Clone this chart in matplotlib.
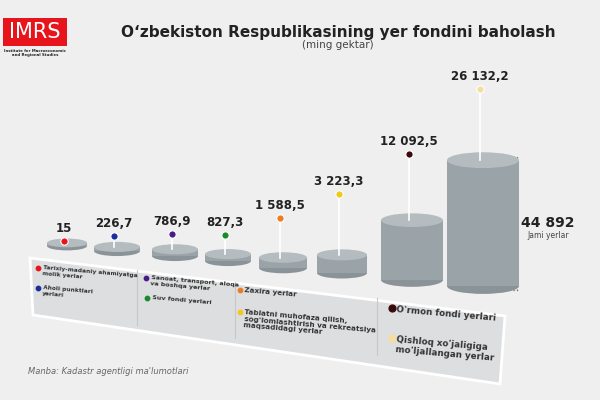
import matplotlib
matplotlib.use("Agg")
import matplotlib.pyplot as plt
from matplotlib.patches import Ellipse, Rectangle, Polygon

categories = ["Tarixiy-madaniy ahamiyatga\nmolik yerlar", "Aholi punktlari\nyerlari",
              "Sanoat, transport, aloqa\nva boshqa yerlar", "Suv fondi yerlari",
              "Zaxira yerlar", "Tabiatni muhofaza qilish,\nsog'lomlashtirish va rekreatsiya\nmaqsadidagi yerlar",
              "O'rmon fondi yerlari", "Qishloq xo'jaligiga\nmo'ljallangan yerlar"]
values = [15, 226.7, 786.9, 827.3, 1588.5, 3223.3, 12092.5, 26132.2]
labels = ["15", "226,7", "786,9", "827,3", "1 588,5", "3 223,3", "12 092,5", "26 132,2"]
colors = ["#e8141c", "#1a2f9e", "#4a1a8a", "#1a8a2a", "#f07a1e", "#f0c81e", "#3a0a0a", "#f5dca0"]
total_label = "44 892"

fig = plt.figure(figsize=(6, 4), dpi=100)
fig.patch.set_facecolor("#efefef")
ax = fig.add_axes([0, 0, 1, 1])
ax.set_xlim(0, 600); ax.set_ylim(400, 0); ax.axis("off")

# legend panel
ax.add_patch(Polygon([(30, 258), (505, 316), (500, 384), (33, 315)], closed=True,
                     facecolor="#dcdee0", edgecolor="white", lw=2, zorder=1))
for x0, y0, y1 in [(137, 270, 325), (235, 282, 338), (377, 298, 355)]:
    ax.plot([x0, x0], [y0, y1], color="#c8c8c8", lw=0.8, zorder=2)

xs = [67, 117, 175, 228, 283, 342, 412, 483]
ws = [40, 46, 46, 46, 48, 50, 62, 72]
base = [246, 251, 256, 261, 268, 273, 280, 286]
offs = [2, 11, 15, 19, 40, 61, 66, 71]
cyl = "#9aa3a8"; top = "#b5bcc0"
for x, w, b, v, lab, c, o in zip(xs, ws, base, values, labels, colors, offs):
    h = 3 + v * 0.0047
    eh = w * 0.22
    ax.add_patch(Ellipse((x, b), w, eh, facecolor="#8a9398", edgecolor="none", zorder=3))
    ax.add_patch(Rectangle((x - w / 2, b - h), w, h, facecolor=cyl, edgecolor="none", zorder=3))
    ax.add_patch(Ellipse((x, b - h), w, eh, facecolor=top, edgecolor="none", zorder=4))
    ty = b - h
    dy = ty - o
    ax.plot([x - 3, x - 3], [dy, ty], color="white", lw=1.2, zorder=5)
    ax.scatter([x - 3], [dy], s=28, color=c, edgecolor="white", lw=0.8, zorder=6)
    ax.text(x - 3, dy - 6, lab, ha="center", va="bottom", fontsize=8.5,
            fontweight="bold", color="#222222", zorder=6)

# bracket
ax.plot([513, 517, 517, 513], [157, 157, 290, 290], color="#666", lw=1, ls=":", zorder=2)
ax.text(548, 223, total_label, ha="center", va="center", fontsize=10, fontweight="bold", color="#222")
ax.text(548, 235, "Jami yerlar", ha="center", va="center", fontsize=5.5, color="#444")

# legend texts
leg = [(38, 268, 0, 4.2), (38, 288, 1, 4.2), (146, 278, 2, 4.6), (147, 298, 3, 4.6),
       (240, 290, 4, 5.2), (240, 312, 5, 5.2), (392, 308, 6, 6.3), (392, 338, 7, 6.3)]
for lx, ly, i, fs in leg:
    ax.scatter([lx], [ly], s=10 if fs < 6 else 24, color=colors[i], zorder=6,
               marker="o" if i != 7 else "s")
    ax.text(lx + 5, ly - 3, categories[i], ha="left", va="top", fontsize=fs,
            fontweight="bold", color="#333", rotation=-5, rotation_mode="anchor",
            linespacing=1.15, zorder=6)

# title
ax.text(338, 33, "O‘zbekiston Respublikasining yer fondini baholash", ha="center", va="center",
        fontsize=11, fontweight="bold", color="#222")
ax.text(338, 45, "(ming gektar)", ha="center", va="center", fontsize=7.5, color="#444")

# logo
ax.add_patch(Rectangle((3, 18), 64, 28, facecolor="#e8141c", zorder=5))
ax.text(35, 32, "IMRS", ha="center", va="center", fontsize=15, color="white", zorder=6)
ax.text(35, 53, "Institute for Macroeconomic\nand Regional Studies", ha="center", va="center",
        fontsize=2.8, fontweight="bold", color="#222", linespacing=1.1)

ax.text(28, 372, "Manba: Kadastr agentligi ma'lumotlari", ha="left", va="center",
        fontsize=6, style="italic", color="#666")

fig.savefig("out.png", dpi=100, facecolor=fig.get_facecolor())
